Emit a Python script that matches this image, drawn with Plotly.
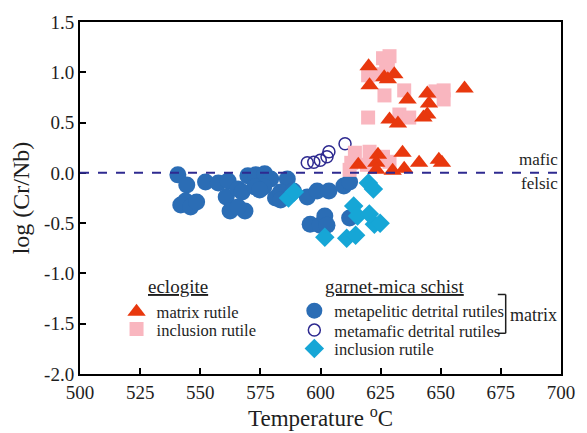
import plotly.graph_objects as go

# ---- data ----
pelitic_T = [540.7, 544.4, 552.2, 557.5, 561.6, 543.9, 541.9, 546.0, 548.5, 560.8, 562.4, 568.6,
             565.7, 569.8, 573.1, 576.8, 579.3, 565.7, 567.4, 576.4, 581.3, 586.2, 583.4, 588.7,
             594.5, 598.6, 603.5, 595.7, 599.8, 601.8, 602.7, 609.7, 612.1, 612.1, 572.7, 574.7,
             583.4]
pelitic_y = [-0.02, -0.12, -0.09, -0.10, -0.08, -0.28, -0.32, -0.34, -0.29, -0.24, -0.38, -0.38,
             -0.34, -0.03, -0.02, -0.01, -0.06, -0.16, -0.19, -0.14, -0.25, -0.06, -0.19, -0.18,
             -0.24, -0.18, -0.18, -0.51, -0.52, -0.43, -0.52, -0.13, -0.09, -0.45, -0.14, -0.17,
             -0.27]

mafic_T = [594.5, 597.2, 599.9, 602.7, 603.5, 610.2]
mafic_y = [0.10, 0.105, 0.125, 0.16, 0.21, 0.29]

schist_incl_T = [586.7, 589.1, 601.8, 610.9, 614.6, 613.8, 615.4, 619.9, 622.0, 620.3, 622.4, 624.8]
schist_incl_y = [-0.25, -0.19, -0.64, -0.65, -0.62, -0.33, -0.43, -0.10, -0.16, -0.41, -0.51, -0.50]

ecl_matrix_T = [620.0, 620.4, 626.5, 628.0, 630.7, 636.2, 644.4, 645.1, 644.4, 642.8, 628.7, 632.2,
                659.9, 634.1, 623.9, 615.7, 623.2, 623.2, 630.0, 634.8, 641.0, 649.2, 650.5]
ecl_matrix_y = [1.06, 0.87, 0.95, 0.93, 0.98, 0.73, 0.79, 0.69, 0.58, 0.55, 0.53, 0.49,
                0.84, 0.20, 0.18, 0.08, 0.10, 0.03, 0.02, 0.04, 0.10, 0.13, 0.10]

ecl_incl_T = [626.0, 628.0, 628.7, 627.3, 619.8, 622.5, 626.6, 634.8, 647.8, 651.2, 651.2, 619.8,
              632.8, 636.9, 626.0, 628.7, 619.3, 614.3, 612.8, 612.1, 620.4]
ecl_incl_y = [1.14, 1.11, 1.16, 1.05, 0.97, 0.98, 0.77, 0.82, 0.81, 0.82, 0.73, 0.55,
              0.58, 0.55, 0.16, 0.11, 0.08, 0.20, 0.10, 0.03, 0.21]

x_ticks = [500, 525, 550, 575, 600, 625, 650, 675, 700]
y_ticks = [1.5, 1.0, 0.5, 0.0, -0.5, -1.0, -1.5, -2.0]

FONT = "Liberation Serif"
TXT = "#1e1e1e"
RED = "#e8380e"
PINK = "#f9b6bf"
BLUE = "#2b6db5"
NAVY = "#2e2a90"
CYAN = "#16a6d6"

# plot area in pixels: x 80..567, y 18..381
def px2paper(xp, yp):
    return (xp - 80) / 487, (381 - yp) / 363

fig = go.Figure()

traces = [
    # (x, y, name, marker, legend id, legend text-left px, legend centre y px)
    (pelitic_T, pelitic_y, "metapelitic detrital rutiles",
     dict(symbol="circle", size=17, color=BLUE), "legend3", 337, 316),
    (mafic_T, mafic_y, "metamafic detrital rutiles",
     dict(symbol="circle-open", size=12, color=NAVY, line=dict(width=1.5)), "legend4", 337, 336),
    (schist_incl_T, schist_incl_y, "inclusion rutile",
     dict(symbol="diamond", size=15, color=CYAN), "legend5", 337, 355),
    (ecl_incl_T, ecl_incl_y, "inclusion rutile",
     dict(symbol="square", size=14, color=PINK), "legend2", 157, 335),
    (ecl_matrix_T, ecl_matrix_y, "matrix rutile",
     dict(symbol="triangle-up", size=16, color=RED), "legend", 157, 317),
]

legend_layouts = {}
for xs, ys, name, mk, lg, tx, ty in traces:
    fig.add_trace(go.Scatter(x=xs, y=ys, mode="markers", name=name, marker=mk, legend=lg,
                             showlegend=True))
    lx, ly = px2paper(tx - 40, ty)
    legend_layouts[lg] = dict(x=lx, y=ly, xanchor="left", yanchor="middle",
                              bgcolor="rgba(0,0,0,0)", borderwidth=0, visible=True,
                              font=dict(family=FONT, size=16.5, color=TXT),
                              itemsizing="trace")

axis_common = dict(showline=True, linecolor="black", linewidth=2, mirror=True,
                   ticks="inside", ticklen=6, tickwidth=2, tickcolor="black",
                   showgrid=False, zeroline=False,
                   tickfont=dict(family=FONT, size=19, color=TXT))

fig.update_xaxes(range=[500, 700], tickvals=x_ticks, ticktext=[str(v) for v in x_ticks],
                 title=dict(text="Temperature <sup>o</sup>C", font=dict(family=FONT, size=23, color=TXT),
                            standoff=2),
                 **axis_common)
fig.update_yaxes(range=[-2.0, 1.5], tickvals=y_ticks, ticktext=[f"{v:.1f}" for v in y_ticks],
                 title=dict(text="log (Cr/Nb)", font=dict(family=FONT, size=24, color=TXT),
                            standoff=8),
                 **axis_common)

fig.add_shape(type="line", xref="paper", yref="y", x0=0, x1=1, y0=0, y1=0,
              line=dict(color=NAVY, width=2, dash="dash"))

# bracket for "matrix"
for (x0, y0, x1, y1) in [(503, 299, 511, 299), (511, 299, 511, 339), (503, 339, 511, 339)]:
    a0, b0 = px2paper(x0, y0)
    a1, b1 = px2paper(x1, y1)
    fig.add_shape(type="line", xref="paper", yref="paper", x0=a0, x1=a1, y0=b0, y1=b1,
                  line=dict(color=TXT, width=1.5))

ann = []
for text, xp, yp, size, anchor in [
    ("<u>eclogite</u>", 147, 291, 19, "left"),
    ("<u>garnet-mica schist</u>", 326, 291, 19, "left"),
    ("matrix", 513, 320, 18, "left"),
    ("mafic", 566, 160, 17, "right"),
    ("felsic", 566, 185, 17, "right"),
]:
    xx, yy = px2paper(xp, yp)
    ann.append(dict(text=text, x=xx, y=yy, xref="paper", yref="paper", showarrow=False,
                    xanchor=anchor, yanchor="middle",
                    font=dict(family=FONT, size=size, color=TXT)))

fig.update_layout(
    width=587, height=433,
    margin=dict(l=80, r=20, t=18, b=52),
    paper_bgcolor="white", plot_bgcolor="white",
    showlegend=True,
    annotations=ann,
    **legend_layouts,
)

fig.write_html("out.html")
